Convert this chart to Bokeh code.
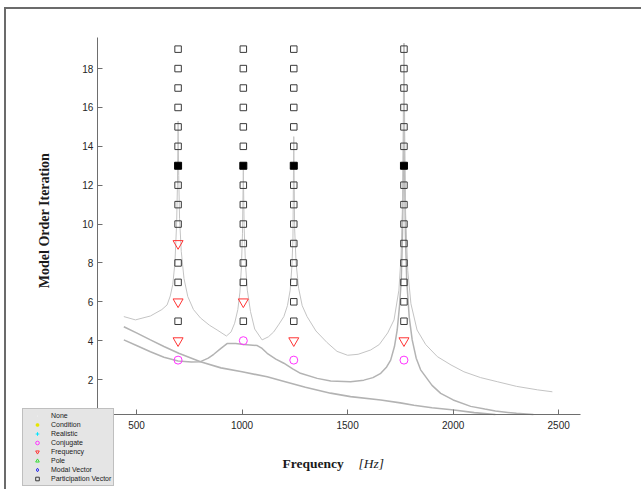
import math
from bokeh.plotting import figure
from bokeh.models import Range1d, Legend, LegendItem, Label, FixedTicker
from bokeh.embed import file_html
from bokeh.resources import INLINE

# --- measured response curves (normalised to the order axis) ---
freq_a = [440, 495, 566, 620, 645, 660, 672, 682, 690, 694, 697, 700, 704, 712, 725,
          743, 770, 803, 845, 882, 926, 948, 965, 980, 990, 997, 1002, 1006, 1010,
          1016, 1025, 1040, 1060, 1095, 1125, 1150, 1175, 1198, 1215, 1228, 1236,
          1241, 1245, 1249, 1256, 1268, 1285, 1308, 1350, 1403, 1450, 1500, 1550,
          1609, 1650, 1690, 1720, 1743, 1753, 1760, 1764, 1767, 1770, 1775, 1785,
          1800, 1829, 1870, 1925, 1990, 2051, 2130, 2209, 2300, 2400, 2470]
resp_a = [5.24, 5.07, 5.27, 5.6, 5.84, 6.3, 6.9, 8.0, 10.0, 12.0, 15.3, 12.5, 10.3,
          8.6, 7.2, 6.27, 5.6, 5.17, 4.8, 4.55, 4.24, 4.45, 4.9, 5.6, 6.5, 7.8, 9.5,
          12.8, 9.8, 8.0, 6.6, 5.5, 4.6, 4.04, 4.2, 4.45, 4.85, 5.24, 5.8, 6.6, 7.8,
          9.2, 14.5, 9.8, 8.0, 6.7, 5.8, 5.24, 4.5, 3.9, 3.45, 3.25, 3.3, 3.52, 3.8,
          4.4, 5.07, 6.6, 8.3, 11.0, 14.0, 19.3, 14.0, 10.5, 7.6, 5.9, 4.55, 3.8,
          3.18, 2.75, 2.4, 2.1, 1.89, 1.65, 1.47, 1.37]

freq_b = [440, 500, 566, 630, 697, 760, 803, 840, 866, 900, 929, 970, 1008, 1072,
          1095, 1119, 1160, 1198, 1240, 1277, 1356, 1420, 1514, 1577, 1620, 1657,
          1685, 1704, 1722, 1735, 1746, 1754, 1760, 1764, 1767, 1770, 1774, 1780,
          1792, 1806, 1825, 1846, 1900, 1941, 2000, 2083, 2150, 2200, 2300, 2380]
resp_b = [4.04, 3.75, 3.43, 3.15, 2.95, 2.9, 2.92, 3.1, 3.3, 3.6, 3.85, 3.85, 3.8,
          3.75, 3.6, 3.35, 3.05, 2.84, 2.55, 2.32, 2.06, 1.92, 1.89, 1.97, 2.1, 2.32,
          2.65, 3.0, 3.7, 4.55, 5.8, 7.1, 9.5, 13.0, 19.3, 13.0, 9.5, 7.1, 5.2, 4.04,
          3.1, 2.5, 1.7, 1.29, 0.95, 0.62, 0.48, 0.38, 0.26, 0.2]

freq_c = [440, 500, 566, 630, 700, 803, 900, 1000, 1119, 1200, 1300, 1419, 1514,
          1657, 1750, 1814, 1900, 2004, 2100, 2200]
resp_c = [4.72, 4.4, 4.04, 3.7, 3.35, 2.92, 2.6, 2.4, 2.14, 1.9, 1.6, 1.3, 1.12,
          0.95, 0.8, 0.68, 0.55, 0.43, 0.3, 0.2]

# --- stabilisation results per model order ---
conj_freq = [697, 1006, 1245, 1767]
conj_order = [3, 4, 3, 3]

stab_freq = [697, 697, 697, 1006, 1245, 1767]
stab_order = [4, 6, 9, 6, 4, 4]

pv_order_697 = [5, 7, 8, 10, 11, 12, 14, 15, 16, 17, 18, 19]
pv_order_1006 = [5, 7, 8, 9, 10, 11, 12, 14, 15, 16, 17, 18, 19]
pv_order_1245 = [5, 6, 7, 8, 9, 10, 11, 12, 14, 15, 16, 17, 18, 19]
pv_order_1767 = [5, 6, 7, 8, 9, 10, 11, 12, 14, 15, 16, 17, 18, 19]

chosen_freq = [697, 1006, 1245, 1767]
chosen_order = [13, 13, 13, 13]

x_ticks = [500, 1000, 1500, 2000, 2500]
y_ticks = [2, 4, 6, 8, 10, 12, 14, 16, 18]

pv_freq = ([697] * len(pv_order_697) + [1006] * len(pv_order_1006)
           + [1245] * len(pv_order_1245) + [1767] * len(pv_order_1767))
pv_order = pv_order_697 + pv_order_1006 + pv_order_1245 + pv_order_1767

# criteria with no stable pole in this run (kept for the legend)
NAN = [float("nan")]

# extent of the drawn axes
x_lo, x_hi = 314.7, 2604
y_lo, y_hi = 0.2, 19.6

# the plotting frame fills the whole canvas; the axes float inside it
p = figure(width=637, height=482,
           x_range=Range1d(-115.8, 2901.7), y_range=Range1d(-3.76, 21.04),
           output_backend="svg", toolbar_location=None,
           min_border_left=0, min_border_right=0,
           min_border_top=0, min_border_bottom=0)
p.styles = {"margin-left": "4px", "margin-top": "7px",
            "border-left": "2px solid #6b6b6b", "border-top": "2px solid #6b6b6b"}
p.grid.visible = False
p.outline_line_color = None

p.xaxis.fixed_location = y_lo
p.xaxis.bounds = (x_lo, x_hi)
p.yaxis.fixed_location = x_lo
p.yaxis.bounds = (y_lo, y_hi)

for ax, ticks in ((p.xaxis[0], x_ticks), (p.yaxis[0], y_ticks)):
    ax.ticker = FixedTicker(ticks=ticks)
    ax.major_tick_in = 5
    ax.major_tick_out = 0
    ax.minor_tick_line_color = None
    ax.axis_line_color = "#6e6e6e"
    ax.major_tick_line_color = "#6e6e6e"
    ax.major_label_text_font = "Liberation Sans"
    ax.major_label_text_font_size = "10px"
    ax.major_label_text_color = "#262626"
p.xaxis.major_label_standoff = 6
p.yaxis.major_label_standoff = 4

# response curves
p.line(freq_c, resp_c, line_color="#b3b3b3", line_width=1.6)
p.line(freq_b, resp_b, line_color="#b3b3b3", line_width=1.5)
p.line(freq_a, resp_a, line_color="#c4c4c4", line_width=1)

# stability markers
r_none = p.scatter(NAN, NAN, marker="dot", size=6, color="#ffffff")
r_cond = p.scatter(NAN, NAN, marker="asterisk", size=7, line_color="#e6e600",
                   line_width=1.5)
r_real = p.scatter(NAN, NAN, marker="cross", size=7, line_color="#00e5ff", line_width=1)
r_conj = p.scatter(conj_freq, conj_order, marker="circle", size=8, fill_color=None,
                   line_color="#ff33ff", line_width=1)
r_freq = p.scatter(stab_freq, stab_order, marker="inverted_triangle", size=10,
                   fill_color=None, line_color="#ff3333", line_width=1)
r_pole = p.scatter(NAN, NAN, marker="triangle", size=7, fill_color=None,
                   line_color="#33dd33", line_width=1)
r_mv = p.scatter(NAN, NAN, marker="diamond", size=7, fill_color=None,
                 line_color="#2222ee", line_width=1)
r_pv = p.scatter(pv_freq, pv_order, marker="square", size=6.5, fill_color=None,
                 line_color="#3a3a3a", line_width=1)
p.scatter(chosen_freq, chosen_order, marker="square", size=7, fill_color="#000000",
          line_color="#000000")

legend = Legend(items=[
    LegendItem(label="None", renderers=[r_none]),
    LegendItem(label="Condition", renderers=[r_cond]),
    LegendItem(label="Realistic", renderers=[r_real]),
    LegendItem(label="Conjugate", renderers=[r_conj]),
    LegendItem(label="Frequency", renderers=[r_freq]),
    LegendItem(label="Pole", renderers=[r_pole]),
    LegendItem(label="Modal Vector", renderers=[r_mv]),
    LegendItem(label="Participation Vector", renderers=[r_pv]),
], location=(16, 5))
legend.background_fill_color = "#e5e5e5"
legend.background_fill_alpha = 1
legend.border_line_color = "#9a9a9a"
legend.label_text_font = "Liberation Sans"
legend.label_text_font_size = "7px"
legend.label_text_color = "#1a1a1a"
legend.glyph_width = 24
legend.glyph_height = 9
legend.label_height = 9
legend.spacing = 0
legend.padding = 2
legend.margin = 0
legend.label_standoff = 2
p.add_layout(legend)

# axis titles
p.add_layout(Label(x=38, y=271, x_units="screen", y_units="screen",
                   text="Model Order Iteration", angle=math.pi / 2,
                   text_font="Liberation Serif", text_font_style="bold",
                   text_font_size="14px", text_align="center",
                   text_baseline="middle", text_color="#1a1a1a"))
p.add_layout(Label(x=276, y=28, x_units="screen", y_units="screen",
                   text="Frequency", text_font="Liberation Serif",
                   text_font_style="bold", text_font_size="13.5px",
                   text_baseline="middle", text_color="#1a1a1a"))
p.add_layout(Label(x=352, y=28, x_units="screen", y_units="screen",
                   text="[Hz]", text_font="Liberation Serif",
                   text_font_style="italic", text_font_size="13.5px",
                   text_baseline="middle", text_color="#1a1a1a"))

open("out.html", "w").write(file_html(p, INLINE))
